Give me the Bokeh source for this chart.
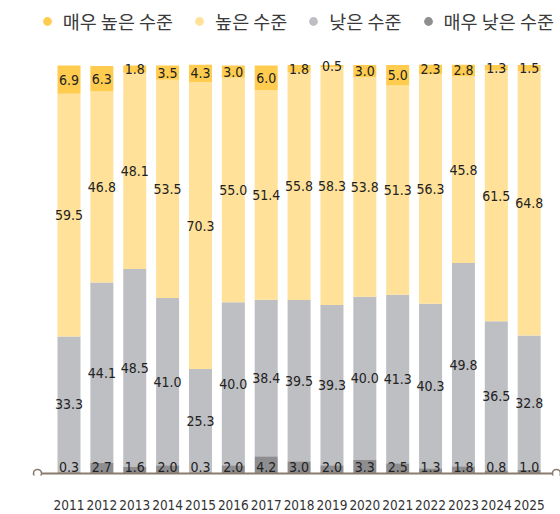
from bokeh.plotting import figure
from bokeh.models import ColumnDataSource, Range1d, FixedTicker, Legend, LegendItem
from bokeh.core.properties import value
from bokeh.embed import file_html
from bokeh.resources import INLINE

# ---- data ----
years = ["2011", "2012", "2013", "2014", "2015", "2016", "2017", "2018",
         "2019", "2020", "2021", "2022", "2023", "2024", "2025"]
very_high = [6.9, 6.3, 1.8, 3.5, 4.3, 3.0, 6.0, 1.8, 0.5, 3.0, 5.0, 2.3, 2.8, 1.3, 1.5]
high = [59.5, 46.8, 48.1, 53.5, 70.3, 55.0, 51.4, 55.8, 58.3, 53.8, 51.3, 56.3, 45.8, 61.5, 64.8]
low = [33.3, 44.1, 48.5, 41.0, 25.3, 40.0, 38.4, 39.5, 39.3, 40.0, 41.3, 40.3, 49.8, 36.5, 32.8]
very_low = [0.3, 2.7, 1.6, 2.0, 0.3, 2.0, 4.2, 3.0, 2.0, 3.3, 2.5, 1.3, 1.8, 0.8, 1.0]
series_names = ["매우 높은 수준", "높은 수준", "낮은 수준", "매우 낮은 수준"]

# ---- styles ----
colors = {"very_low": "#8E8E90", "low": "#BEBFC3", "high": "#FFE199", "very_high": "#FFCC4F"}
axis_color = "#8A7C6C"
num_font = "DejaVu Sans Condensed"
kr_font = "Noto Sans CJK KR"

xs = list(range(len(years)))
src = ColumnDataSource(dict(x=xs, very_low=very_low, low=low, high=high, very_high=very_high))

p = figure(width=560, height=514, output_backend="svg", toolbar_location=None,
           x_range=Range1d(-2.084, 14.953), y_range=Range1d(-0.49, 115.93),
           y_axis_location=None, min_border_left=0, min_border_right=0,
           min_border_top=0, min_border_bottom=39)
p.outline_line_color = None
p.xgrid.visible = False
p.ygrid.visible = False
p.background_fill_color = "white"

stack_keys = ["very_low", "low", "high", "very_high"]
p.vbar_stack(stack_keys, x="x", width=0.70, source=src,
             color=[colors[k] for k in stack_keys], line_color=None)

# value labels
lx, ly, lt = [], [], []
for i in xs:
    vals = [very_low[i], low[i], high[i], very_high[i]]
    base = 0.0
    for j, v in enumerate(vals):
        lx.append(i)
        ly.append(1.5 if j == 0 else base + v / 2)
        lt.append(f"{v:.1f}")
        base += v
p.text(x=lx, y=ly, text=lt, text_align="center", text_baseline="middle",
       text_font=value(num_font), text_font_size="14px", text_color="#222222")

# baseline with circle ends
x_ends = [-0.958, len(years) - 0.169]
p.line(x=x_ends, y=[0, 0], line_color=axis_color, line_width=2)
p.scatter(x=x_ends, y=[0, 0], size=8, marker="circle", fill_color="white",
          line_color=axis_color, line_width=1.6)

# x axis
ax = p.xaxis[0]
ax.ticker = FixedTicker(ticks=xs)
ax.major_label_overrides = {i: y for i, y in zip(xs, years)}
ax.axis_line_color = None
ax.major_tick_line_color = None
ax.minor_tick_line_color = None
ax.major_label_standoff = 18
ax.major_label_text_font = num_font
ax.major_label_text_font_size = "13.5px"
ax.major_label_text_color = "#333333"

# legend with circle markers
nan = float("nan")
leg_cols = [colors["very_high"], colors["high"], colors["low"], colors["very_low"]]
items = []
for name, c in zip(series_names, leg_cols):
    r = p.scatter(x=[nan], y=[nan], marker="circle", fill_color=c, line_color=None)
    items.append(LegendItem(label=name, renderers=[r]))
legend = Legend(items=items, orientation="horizontal", location=(35.7, 441.3),
                glyph_width=22, glyph_height=22, label_standoff=5, spacing=15,
                padding=0, margin=0, border_line_color=None, background_fill_alpha=0,
                label_text_font=kr_font, label_text_font_size="18.5px",
                label_text_color="#3a3a3a", label_text_baseline="middle")
p.add_layout(legend, "center")

open("out.html", "w").write(file_html(p, INLINE))
